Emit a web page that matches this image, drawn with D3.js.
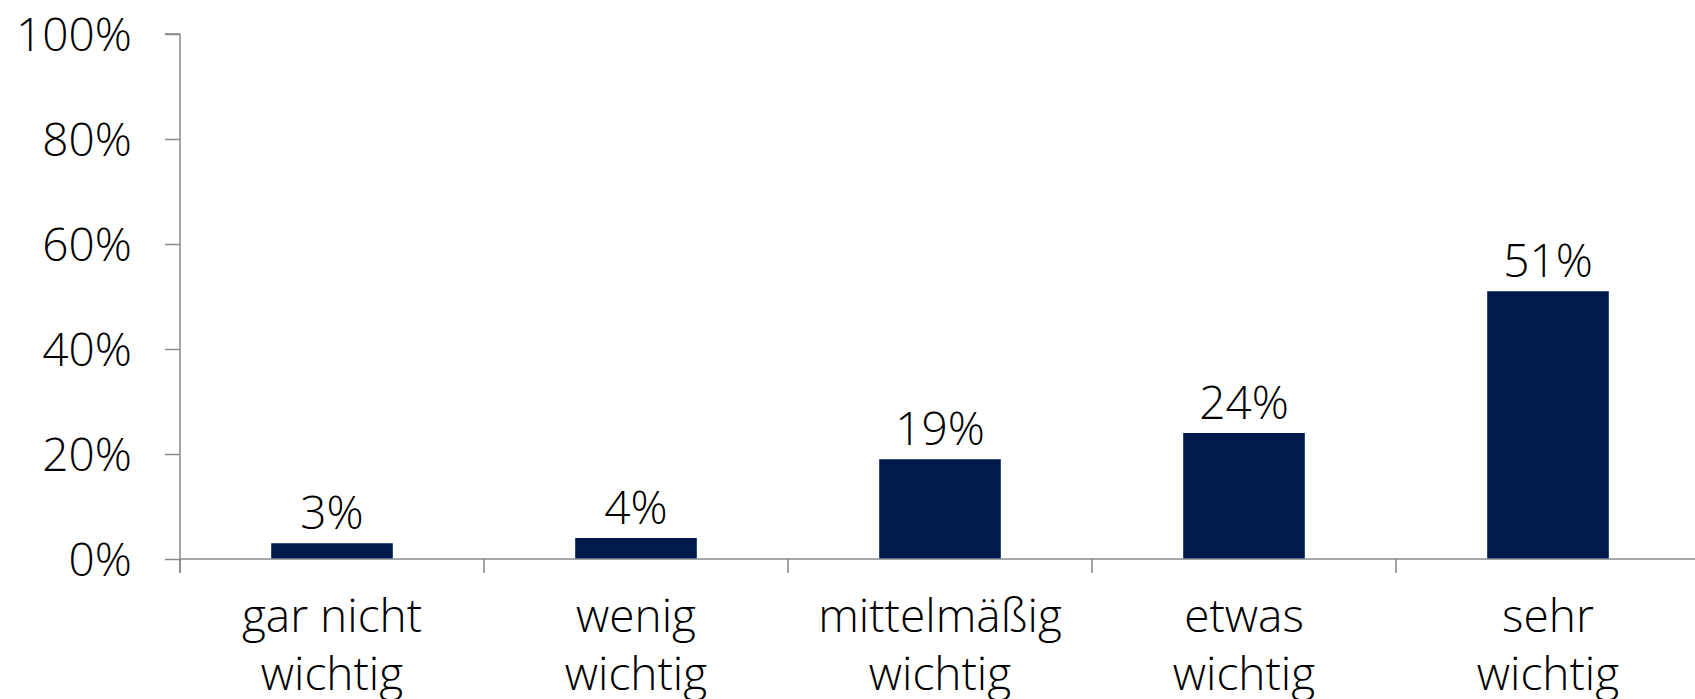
<!DOCTYPE html>
<html>
<head>
<meta charset="utf-8">
<script src="https://cdn.jsdelivr.net/npm/d3@7/dist/d3.min.js"></script>
<style>
  html, body { margin: 0; padding: 0; background: #ffffff; }
  svg { display: block; }
  text { font-family: "Open Sans", "Noto Sans", sans-serif; font-weight: 300; fill: #000000; }
</style>
</head>
<body>
<svg id="chart" width="1695" height="699"></svg>
<script>
// Response categories (two lines each) and their shares in percent
const categoryLines = [
  ["gar nicht", "wichtig"],
  ["wenig", "wichtig"],
  ["mittelmäßig", "wichtig"],
  ["etwas", "wichtig"],
  ["sehr", "wichtig"]
];
const categories = categoryLines.map(l => l.join(" "));
const shares = [3, 4, 19, 24, 51];
const yTicks = [0, 20, 40, 60, 80, 100];

const svg = d3.select("#chart");
const plotLeft = 180, plotRight = 1700, plotTop = 34, plotBottom = 559;
const axisColor = "#888888";
const barColor = "#001a4c";
const fontSize = 46;

const x = d3.scaleBand()
  .domain(categories)
  .range([plotLeft, plotRight])
  .paddingInner(0.6)
  .paddingOuter(0.3);

const y = d3.scaleLinear().domain([0, 100]).range([plotBottom, plotTop]);

// Bars
svg.append("g")
  .selectAll("rect")
  .data(shares)
  .join("rect")
  .attr("x", (d, i) => x(categories[i]))
  .attr("y", d => y(d))
  .attr("width", x.bandwidth())
  .attr("height", d => y(0) - y(d))
  .attr("fill", barColor);

// Value labels above the bars
svg.append("g")
  .selectAll("text")
  .data(shares)
  .join("text")
  .attr("x", (d, i) => x(categories[i]) + x.bandwidth() / 2)
  .attr("y", d => y(d) - 14)
  .attr("text-anchor", "middle")
  .style("font-size", fontSize + "px")
  .text(d => d + "%");

// Y axis
const yAxis = svg.append("g")
  .attr("transform", `translate(${plotLeft},0)`)
  .call(d3.axisLeft(y).tickValues(yTicks).tickSize(15).tickPadding(33)
    .tickFormat(d => d + "%"));
yAxis.attr("font-family", null).attr("font-size", null);
yAxis.select(".domain").attr("stroke", axisColor).attr("stroke-width", 1.5)
  .attr("d", `M-15,${plotTop}H0V${plotBottom + 14}`);
yAxis.selectAll(".tick line").attr("stroke", axisColor).attr("stroke-width", 1.5);
yAxis.selectAll(".tick text")
  .attr("dy", null)
  .attr("y", 16)
  .style("font-size", fontSize + "px")
  .attr("fill", "#000");

// X axis line with ticks between categories
const xg = svg.append("g");
xg.append("line")
  .attr("x1", plotLeft).attr("x2", plotRight)
  .attr("y1", y(0)).attr("y2", y(0))
  .attr("stroke", axisColor).attr("stroke-width", 1.5);
const boundaries = d3.range(categories.length + 1).map(i => plotLeft + i * x.step());
xg.selectAll("line.tick")
  .data(boundaries)
  .join("line")
  .attr("class", "tick")
  .attr("x1", d => d).attr("x2", d => d)
  .attr("y1", y(0)).attr("y2", y(0) + 14)
  .attr("stroke", axisColor).attr("stroke-width", 1.5);

// Two-line category labels
const labels = xg.selectAll("text.cat")
  .data(categoryLines)
  .join("text")
  .attr("class", "cat")
  .attr("text-anchor", "middle")
  .style("font-size", fontSize + "px");
labels.selectAll("tspan")
  .data((d, i) => d.map(line => ({ line, i })))
  .join("tspan")
  .attr("x", d => x(categories[d.i]) + x.bandwidth() / 2)
  .attr("y", (d, j) => 632 + j * 58)
  .text(d => d.line);
</script>
</body>
</html>
